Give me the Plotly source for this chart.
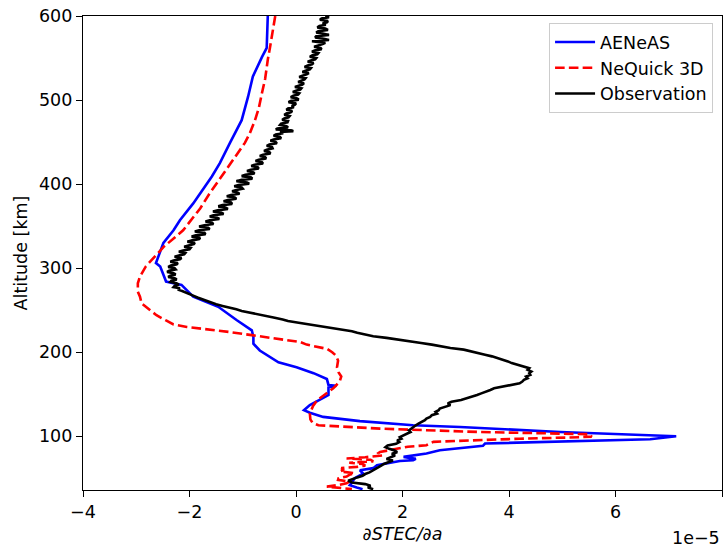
import plotly.graph_objects as go

SCALE = 1e-5

# AENeAS (blue)
aen_alt = [600, 562, 551, 540, 528, 504, 476, 449, 425, 409, 397, 377, 357, 345, 330, 306, 302, 284, 282, 280,
           266, 260, 254, 238, 226, 218, 210, 202, 188, 182, 175, 168, 161, 160, 158, 149, 141, 137, 131, 128,
           123, 120, 118, 113, 111, 105, 100, 96.4, 94, 91.3, 88.5, 83.3, 79.4, 75.4, 73, 71.4, 70.6, 68, 65.5,
           62, 59.5, 55.6, 50, 45, 41.7, 39, 37]
aen_val = [-0.53, -0.55, -0.64, -0.72, -0.81, -0.90, -1.02, -1.24, -1.43, -1.58, -1.71, -1.93, -2.18, -2.30, -2.49,
           -2.63, -2.55, -2.44, -2.30, -2.15, -1.93, -1.68, -1.46, -1.11, -0.83, -0.80, -0.80, -0.68, -0.33, 0.01,
           0.33, 0.58, 0.61, 0.76, 0.61, 0.61, 0.36, 0.26, 0.15, 0.26, 0.51, 1.01, 1.20, 2.2, 3.08, 4.96, 7.14,
           6.65, 4.96, 3.55, 3.51, 2.70, 2.45, 2.02, 2.25, 2.20, 1.95, 1.75, 1.52, 1.45, 1.20, 1.26, 1.10, 1.05,
           1.01, 1.14, 1.25]

# NeQuick 3D (red dashed)
neq_alt = [600, 580, 562, 548, 525, 508, 490, 476, 460, 449, 429, 409, 400, 389, 371, 345, 325, 310, 302, 290,
           282, 272, 266, 258, 250, 244, 238, 233, 230, 228, 224, 220, 216, 212, 209, 204, 200, 196, 190, 182,
           176, 171, 165, 157, 150, 143, 136, 127, 120, 116, 113, 111, 109, 105, 103, 102.4, 99.5, 98.8, 97,
           95.2, 93.3, 91, 89.3, 87.5, 85.3, 83, 81.3, 80, 77, 75, 73.5, 72, 70, 68.5, 67, 65, 63.5, 62, 60, 58,
           56, 54, 52, 50, 48, 46, 44, 42, 40, 38, 37]
neq_val = [-0.39, -0.45, -0.49, -0.53, -0.58, -0.64, -0.70, -0.77, -0.87, -0.96, -1.18, -1.40, -1.50, -1.62, -1.80,
           -2.12, -2.49, -2.70, -2.82, -2.93, -2.97, -2.97, -2.93, -2.90, -2.75, -2.62, -2.45, -2.30, -2.05, -1.74,
           -1.25, -0.80, -0.35, 0.08, 0.20, 0.58, 0.68, 0.75, 0.79, 0.77, 0.80, 0.85, 0.82, 0.70, 0.55, 0.40, 0.32,
           0.26, 0.27, 0.31, 0.42, 1.00, 1.58, 3.46, 5.0, 5.52, 5.55, 5.33, 4.2, 3.46, 2.58, 2.50, 2.45, 2.10,
           1.89, 1.70, 1.58, 1.55, 1.62, 1.30, 0.95, 1.40, 1.45, 1.00, 1.25, 1.30, 1.14, 0.85, 0.90, 0.83, 1.10,
           1.00, 0.95, 0.80, 0.79, 1.00, 0.95, 0.80, 0.58, 0.90, 1.05]

# Observation (black) - main samples
obs_alt = [600, 597, 594, 591, 588, 585, 582, 579, 576, 573, 570, 568, 565, 562, 559, 556, 553, 550, 547, 544,
           541, 538, 535, 532, 529, 526, 523, 520, 517, 514, 511, 508, 505, 502, 499, 496, 493, 490, 487, 484,
           481, 478, 475, 472, 469, 466, 464, 462, 459, 456, 453, 450, 447, 444, 441, 438, 435, 432, 429, 426,
           423, 420, 417, 414, 411, 408, 405, 402, 399, 396, 393, 390, 387, 384, 381, 378, 375, 372, 369, 366,
           363, 360, 357, 354, 351, 348, 345, 342, 339, 336, 333, 330, 327, 324, 321, 318, 315, 312, 309, 306,
           303, 300, 297, 294, 291, 288, 285, 282, 279, 276, 273, 270, 267, 265, 262, 259, 257, 255, 253, 251,
           249, 247, 245, 243, 241, 239, 237, 235, 233, 231, 229, 227, 225, 223, 221, 219, 217, 215, 213, 211,
           209, 207, 205, 203, 201, 199, 197, 195, 193, 191, 189, 187, 185, 183, 181, 179, 177, 175, 173, 171,
           169, 167, 165, 163, 161, 159, 157, 155, 153, 151, 149, 147, 145, 143, 141, 139, 137, 135, 133, 131,
           129, 127, 125, 123, 121, 119, 117, 115, 113, 111, 109, 107, 105, 103, 101, 99, 97, 95, 93, 91,
           89, 87, 85, 83, 81, 79, 77, 75, 73, 71, 69, 67, 65, 63, 61, 59, 57, 55, 53, 51,
           49, 47, 45, 43, 41, 39, 37]
obs_val = [0.55, 0.48, 0.60, 0.50, 0.44, 0.55, 0.42, 0.50, 0.38, 0.52, 0.30, 0.55, 0.40, 0.46, 0.35, 0.42, 0.30,
           0.38, 0.28, 0.33, 0.22, 0.28, 0.18, 0.24, 0.12, 0.18, 0.10, 0.15, 0.05, 0.10, 0.00, 0.06, -0.05, 0.02,
           -0.10, 0.00, -0.08, -0.15, -0.07, -0.18, -0.12, -0.22, -0.15, -0.28, -0.18, -0.35, -0.10, -0.30, -0.38,
           -0.30, -0.42, -0.38, -0.50, -0.45, -0.55, -0.50, -0.62, -0.58, -0.70, -0.64, -0.78, -0.72, -0.85, -0.80,
           -0.95, -0.85, -1.02, -0.92, -1.08, -1.02, -1.12, -1.10, -1.22, -1.15, -1.28, -1.22, -1.38, -1.32, -1.45,
           -1.40, -1.55, -1.48, -1.62, -1.58, -1.72, -1.65, -1.82, -1.72, -1.88, -1.80, -1.95, -1.90, -2.02, -1.98,
           -2.12, -2.08, -2.20, -2.15, -2.30, -2.22, -2.35, -2.28, -2.38, -2.30, -2.36, -2.28, -2.34, -2.25, -2.28,
           -2.18, -2.15, -2.02, -1.92, -1.85, -1.72, -1.62, -1.50, -1.38, -1.22, -1.12, -1.02, -0.85, -0.72, -0.55,
           -0.40, -0.25, -0.15, 0.05, 0.25, 0.45, 0.60, 0.80, 1.05, 1.15, 1.30, 1.45, 1.70, 1.95, 2.15, 2.35,
           2.55, 2.70, 2.90, 3.15, 3.30, 3.45, 3.55, 3.68, 3.78, 3.90, 3.98, 4.05, 4.15, 4.28, 4.38, 4.35, 4.42,
           4.38, 4.40, 4.32, 4.35, 4.28, 4.25, 4.20, 4.05, 3.85, 3.72, 3.65, 3.55, 3.48, 3.40, 3.30, 3.20, 3.10,
           2.92, 2.85, 2.90, 2.80, 2.70, 2.68, 2.62, 2.65, 2.55, 2.52, 2.45, 2.42, 2.35, 2.30, 2.25, 2.20, 2.15,
           2.12, 2.15, 2.08, 2.02, 1.95, 1.98, 1.90, 1.94, 1.88, 1.72, 1.68, 1.75, 1.85, 1.90, 1.80, 1.86, 1.78,
           1.70, 1.82, 1.72, 1.65, 1.60, 1.55, 1.50, 1.45, 1.38, 1.30, 1.25, 1.15, 1.05, 0.98, 1.05, 1.30, 1.40,
           1.35, 1.45]

# Observation (black) - extra in-between samples of the noisy upper part
obs_mid_alt = [598.5, 595.5, 592.5, 589.5, 586.5, 583.5, 580.5, 577.5, 574.5, 571.5, 569, 566.5, 563.5, 560.5,
               557.5, 554.5, 551.5, 548.5, 545.5, 542.5, 539.5, 536.5, 533.5, 530.5, 527.5, 524.5, 521.5, 518.5,
               515.5, 512.5, 509.5, 506.5, 503.5, 500.5, 497.5, 494.5, 491.5, 488.5, 485.5, 482.5, 479.5, 476.5,
               473.5, 470.5, 467.5, 465, 463, 460.5, 457.5, 454.5, 451.5, 448.5, 445.5, 442.5, 439.5, 436.5,
               433.5, 430.5, 427.5, 424.5, 421.5, 418.5, 415.5, 412.5, 409.5, 406.5, 403.5, 400.5, 397.5, 394.5,
               391.5, 388.5, 385.5, 382.5, 379.5, 376.5, 373.5, 370.5, 367.5, 364.5, 361.5, 358.5, 355.5, 352.5,
               349.5, 346.5, 343.5, 340.5, 337.5, 334.5, 331.5, 328.5, 325.5, 322.5, 319.5, 316.5, 313.5, 310.5,
               307.5, 304.5, 301.5, 298.5, 295.5, 292.5, 289.5, 286.5, 283.5, 280.5, 277.5, 274.5]
obs_mid_val = [0.62, 0.45, 0.58, 0.56, 0.40, 0.60, 0.38, 0.62, 0.36, 0.62, 0.44, 0.50, 0.34, 0.48,
               0.30, 0.40, 0.26, 0.36, 0.22, 0.30, 0.16, 0.26, 0.12, 0.20, 0.06, 0.16, 0.04, 0.12,
               -0.02, 0.08, -0.06, 0.04, -0.10, 0.05, -0.14, -0.02, -0.04, -0.18, -0.10, -0.22, -0.14, -0.26,
               -0.16, -0.30, -0.15, -0.38, -0.05, -0.24, -0.42, -0.28, -0.48, -0.36, -0.55, -0.44, -0.60, -0.48,
               -0.68, -0.56, -0.76, -0.62, -0.84, -0.70, -0.92, -0.78, -1.02, -0.82, -1.12, -0.88, -1.16, -1.00,
               -1.20, -1.06, -1.30, -1.12, -1.36, -1.20, -1.46, -1.28, -1.56, -1.36, -1.62, -1.44, -1.70, -1.55,
               -1.82, -1.62, -1.90, -1.70, -1.96, -1.82, -2.04, -1.92, -2.10, -2.00, -2.20, -2.10, -2.28, -2.18,
               -2.36, -2.24, -2.40, -2.26, -2.42, -2.26, -2.40, -2.24, -2.36, -2.20, -2.30, -2.22]

x_ticks = [-4, -2, 0, 2, 4, 6, 8]
x_tick_labels = ["\u22124", "\u22122", "0", "2", "4", "6", "8"]
y_ticks = [100, 200, 300, 400, 500, 600]

# merge the two observation sample sets in altitude order
obs_pts = sorted(zip(obs_alt + obs_mid_alt, obs_val + obs_mid_val), key=lambda p: -p[0])
obs_y = [p[0] for p in obs_pts]
obs_x = [p[1] * SCALE for p in obs_pts]

FONT = "DejaVu Sans"
FS = 17.5
LW = 2.6

fig = go.Figure()
fig.add_trace(go.Scatter(x=[v * SCALE for v in aen_val], y=aen_alt, mode="lines", name="AENeAS",
                         line=dict(color="#0000ff", width=LW)))
fig.add_trace(go.Scatter(x=[v * SCALE for v in neq_val], y=neq_alt, mode="lines", name="NeQuick 3D",
                         line=dict(color="#ff0000", width=LW, dash="9.6px,4.2px")))
fig.add_trace(go.Scatter(x=obs_x, y=obs_y, mode="lines", name="Observation",
                         line=dict(color="#000000", width=LW)))

fig.update_layout(
    width=727, height=549,
    margin=dict(l=83, r=5, t=16, b=59),
    paper_bgcolor="white", plot_bgcolor="white",
    font=dict(family=FONT, size=FS, color="black"),
    showlegend=True,
    legend=dict(x=0.986, y=0.985, xanchor="right", yanchor="top",
                bgcolor="rgba(255,255,255,0.8)", bordercolor="#cccccc", borderwidth=1,
                font=dict(family=FONT, size=FS), itemwidth=40, tracegroupgap=0),
    xaxis=dict(range=[-4 * SCALE, 8 * SCALE], tickvals=[t * SCALE for t in x_ticks], ticktext=x_tick_labels,
               showgrid=False, zeroline=False, showline=True, mirror=True, linecolor="black", linewidth=1.3,
               ticks="outside", ticklen=6, tickwidth=1.3, tickcolor="black",
               title=dict(text="<i>\u2202STEC/\u2202a</i>", standoff=6, font=dict(family=FONT, size=FS))),
    yaxis=dict(range=[36, 600], tickvals=y_ticks, showgrid=False, zeroline=False, showline=True, mirror=True,
               linecolor="black", linewidth=1.3, ticks="outside", ticklen=6, tickwidth=1.3, tickcolor="black",
               title=dict(text="Altitude [km]", standoff=6, font=dict(family=FONT, size=FS))),
)
fig.add_annotation(text="1e\u22125", xref="paper", yref="paper", x=1.0, y=-0.075, xanchor="right", yanchor="top",
                   showarrow=False, font=dict(family=FONT, size=FS))

fig.write_html("out.html")
